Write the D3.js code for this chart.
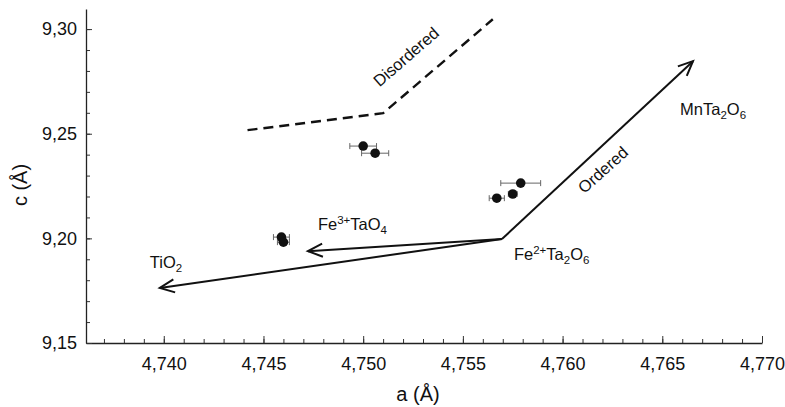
<!DOCTYPE html>
<html>
<head>
<meta charset="utf-8">
<script src="https://cdn.jsdelivr.net/npm/d3@7"></script>
<style>
  body { margin: 0; background: #fff; }
  svg text { font-family: "Liberation Sans", Arial, sans-serif; fill: #111; }
</style>
</head>
<body>
<svg id="chart" width="785" height="407"></svg>
<script>
// measured points (a, c) with error on a
var aVals = [4.7500, 4.7506, 4.7459, 4.7460, 4.7579, 4.7575, 4.7567];
var cVals = [9.2441, 9.2407, 9.2006, 9.1982, 9.2264, 9.2212, 9.2192];
var aErr  = [0.00067, 0.00068, 0.0004, 0.0003, 0.0010, 0.00022, 0.00038];

// disordered trend (dashed)
var disA = [4.7442, 4.7510, 4.7565];
var disC = [9.2517, 9.2598, 9.3047];

// arrows from Fe2+Ta2O6
var arrowFrom = [4.75696, 9.1997];
var arrowToA = [4.76654, 4.7398, 4.74723];
var arrowToC = [9.28467, 9.1763, 9.1939];

var xMajor = [4.740, 4.745, 4.750, 4.755, 4.760, 4.765, 4.770];
var yMajor = [9.15, 9.20, 9.25, 9.30];

var svg = d3.select("#chart");
var x = d3.scaleLinear().domain([4.7361, 4.770]).range([86, 762]);
var y = d3.scaleLinear().domain([9.15, 9.3096]).range([343, 9]);

var loc = d3.formatLocale({decimal: ",", thousands: ".", grouping: [3], currency: ["", ""]});

//minor ticks
var xMinor = d3.range(4737, 4771).map(function(d){ return d/1000; });
var yMinor = d3.range(915, 931).map(function(d){ return d/100; });

svg.append("g").attr("transform", "translate(0,343)")
  .call(d3.axisBottom(x).tickValues(xMinor).tickSize(-4).tickFormat(""))
  .call(function(g){ g.select(".domain").remove(); });
svg.append("g").attr("transform", "translate(86,0)")
  .call(d3.axisLeft(y).tickValues(yMinor).tickSize(-4).tickFormat(""))
  .call(function(g){ g.select(".domain").remove(); });

var xAxis = svg.append("g").attr("transform", "translate(0,343)")
  .call(d3.axisBottom(x).tickValues(xMajor).tickSize(-7).tickSizeOuter(0)
    .tickPadding(14).tickFormat(loc.format(".3f")));
var yAxis = svg.append("g").attr("transform", "translate(86,0)")
  .call(d3.axisLeft(y).tickValues(yMajor).tickSize(-6).tickSizeOuter(0)
    .tickPadding(9).tickFormat(loc.format(".2f")));

[xAxis, yAxis].forEach(function(g){
  g.selectAll("text").style("font-size", "18px").style("fill", "#111");
  g.select(".domain").attr("stroke", "#222").attr("stroke-width", 1.3);
});
svg.selectAll(".tick line").attr("stroke", "#333");

svg.append("text").attr("x", 418).attr("y", 401).attr("text-anchor", "middle")
  .style("font-size", "20px").text("a (Å)");
svg.append("text").attr("transform", "translate(27,185) rotate(-90)")
  .attr("text-anchor", "middle").style("font-size", "20px").text("c (Å)");

// dashed disordered line
var line = d3.line().x(function(d){ return x(d[0]); }).y(function(d){ return y(d[1]); });
svg.append("path")
  .datum(disA.map(function(a, i){ return [a, disC[i]]; }))
  .attr("d", line).attr("fill", "none").attr("stroke", "#111")
  .attr("stroke-width", 2.4).attr("stroke-dasharray", "10,6");

// arrows
arrowToA.forEach(function(a, i){
  var x0 = x(arrowFrom[0]), y0 = y(arrowFrom[1]), x1 = x(a), y1 = y(arrowToC[i]);
  svg.append("line").attr("x1", x0).attr("y1", y0).attr("x2", x1).attr("y2", y1)
    .attr("stroke", "#111").attr("stroke-width", 2);
  var ang = Math.atan2(y1 - y0, x1 - x0), len = 16, spread = 0.42;
  var p1 = [x1 - len*Math.cos(ang - spread), y1 - len*Math.sin(ang - spread)];
  var p2 = [x1 - len*Math.cos(ang + spread), y1 - len*Math.sin(ang + spread)];
  svg.append("path").attr("d", "M" + p1 + "L" + [x1, y1] + "L" + p2)
    .attr("fill", "none").attr("stroke", "#111").attr("stroke-width", 2);
});

// error bars
var eb = svg.append("g").attr("stroke", "#666").attr("stroke-width", 1);
aVals.forEach(function(a, i){
  var yy = y(cVals[i]), xl = x(a - aErr[i]), xr = x(a + aErr[i]);
  eb.append("line").attr("x1", xl).attr("x2", xr).attr("y1", yy).attr("y2", yy);
  eb.append("line").attr("x1", xl).attr("x2", xl).attr("y1", yy - 3).attr("y2", yy + 3);
  eb.append("line").attr("x1", xr).attr("x2", xr).attr("y1", yy - 3).attr("y2", yy + 3);
});

svg.selectAll("circle.pt").data(aVals).enter().append("circle")
  .attr("class", "pt")
  .attr("cx", function(d){ return x(d); })
  .attr("cy", function(d, i){ return y(cVals[i]); })
  .attr("r", 4.8).attr("fill", "#111");

// labels
function label(a, c, parts, rot, anchor){
  var t = svg.append("text").style("font-size", "16.5px")
    .attr("text-anchor", anchor || "start")
    .attr("transform", "translate(" + x(a) + "," + y(c) + ")" + (rot ? " rotate(" + rot + ")" : ""));
  parts.forEach(function(p){
    var s = t.append("tspan").text(p[0]);
    if (p[1] == "sub") s.attr("dy", 4).style("font-size", "11.5px");
    if (p[1] == "sup") s.attr("dy", -6).style("font-size", "11.5px");
    if (p[2]) s.attr("dy", p[2]);
  });
}
label(4.76589, 9.2589, [["MnTa"], ["2", "sub"], ["O", null, -4], ["6", "sub"]]);
label(4.75756, 9.1896, [["Fe"], ["2+", "sup"], ["Ta", null, 6], ["2", "sub"], ["O", null, -4], ["6", "sub"]]);
label(4.74773, 9.2040, [["Fe"], ["3+", "sup"], ["TaO", null, 6], ["4", "sub"]]);
label(4.7393, 9.1858, [["TiO"], ["2", "sub"]]);
label(4.75234, 9.2847, [["Disordered"]], -41, "middle");
label(4.76222, 9.2307, [["Ordered"]], -42, "middle");
</script>
</body>
</html>
